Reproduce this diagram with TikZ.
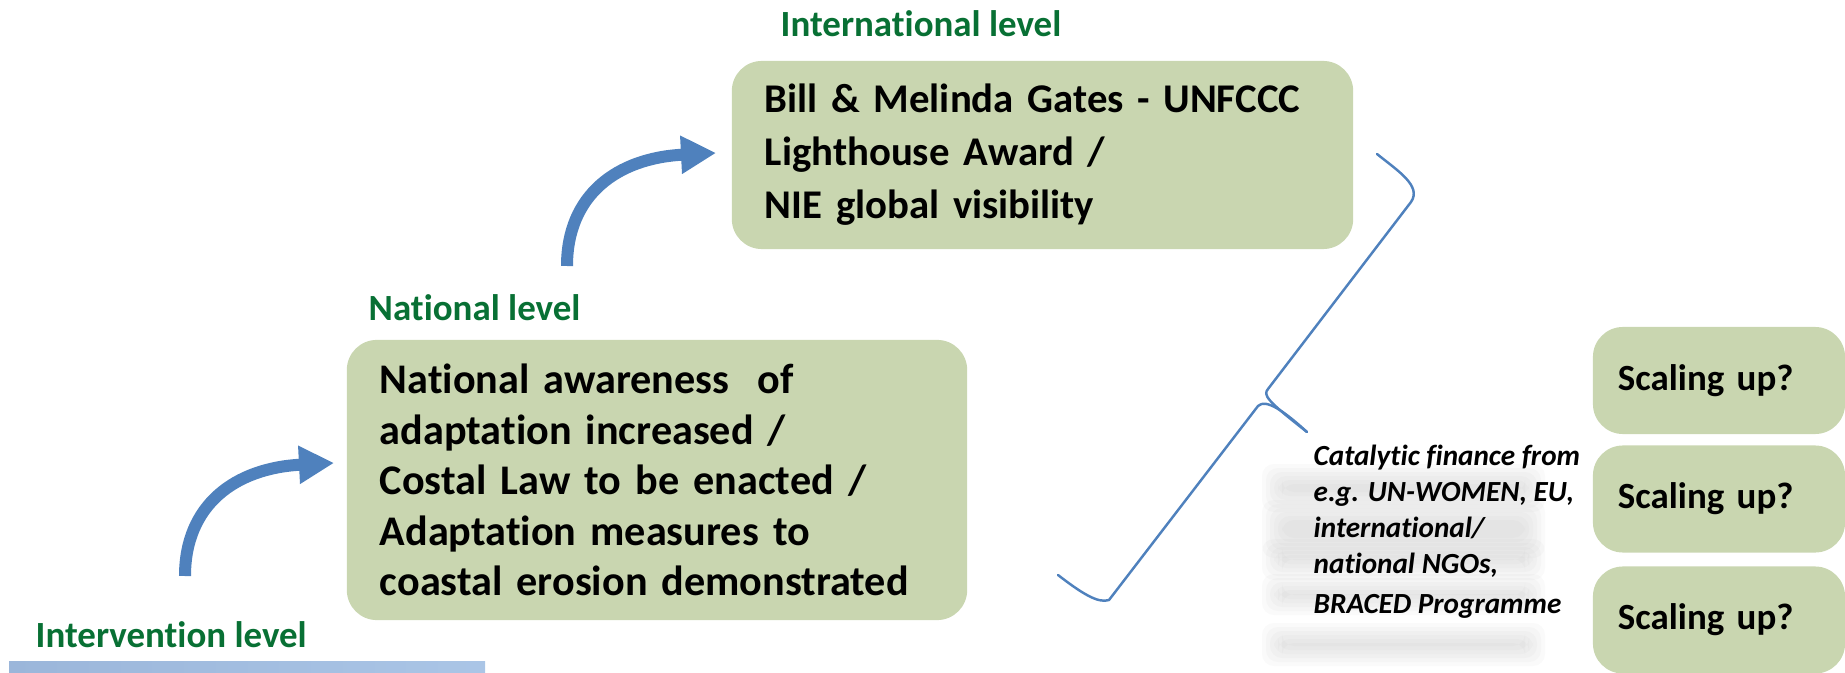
\documentclass[tikz,border=0pt]{standalone}
\usepackage{fontspec}
\setmainfont{Carlito}[Ligatures=NoCommon]
\usetikzlibrary{arrows.meta}
\definecolor{boxfill}{RGB}{201,214,176}
\definecolor{lvlgreen}{RGB}{8,112,52}
\definecolor{arrblue}{RGB}{79,129,189}
\definecolor{barL}{RGB}{155,182,218}
\definecolor{barR}{RGB}{170,197,230}
\definecolor{blurgray}{RGB}{185,185,185}
\begin{document}
\begin{tikzpicture}[x=0.01cm,y=-0.01cm,
  greenbox/.style={draw=none, fill=boxfill, rounded corners=0.3cm, inner xsep=0.33cm, inner ysep=0pt, align=left},
  lvl/.style={text=lvlgreen, font=\bfseries\fontsize{10.5}{12}\selectfont, inner sep=0pt, anchor=west},
  scalebox/.style={greenbox, inner xsep=0.25cm, text width=2.02cm, minimum height=1.07cm, font=\bfseries\fontsize{10.5}{12}\selectfont},
  bigarrow/.style={arrblue, line width=0.12cm, -{Triangle[width=0.36cm,length=0.35cm]}},
  bracestyle/.style={arrblue, line width=0.7pt, line cap=round, line join=round},
  blurstrip/.style={fill=blurgray, opacity=0.08, rounded corners=0.12cm}
]
\path[use as bounding box] (0,0) rectangle (1845,673);
\clip (0,0) rectangle (1845,673);

% faint blurred shadow behind the catalytic text
\foreach \ya/\yb in {478/498, 514/544, 553/566, 588/601, 637/652}{
  \foreach \d in {0,4,8,12,16,20}{
    \fill[blurstrip] (1262+\d,\ya-14+\d) rectangle (1545-\d,\yb+14-\d);
  }
}

% level labels
\node[lvl] (intl) at (780,24) {International level};
\node[lvl] (natl) at (368,308) {National level};
\node[lvl] (intv) at (35,635) {Intervention level};

% main boxes
\node[greenbox, text width=5.55cm, minimum height=1.88cm,
      font=\bfseries\fontsize{11.6}{15.1}\selectfont] (top) at (1042.5,155)
  {Bill \& Melinda Gates - UNFCCC\\ Lighthouse Award /\\ NIE global visibility};
\node[greenbox, text width=5.54cm, minimum height=2.80cm,
      font=\bfseries\fontsize{12}{14.4}\selectfont] (mid) at (657,480)
  {National awareness~~of\\ adaptation increased /\\ Costal Law to be enacted /\\ Adaptation measures to\\ coastal erosion demonstrated};

% scaling boxes
\node[scalebox] (s1) at (1719,380.5) {Scaling up?};
\node[scalebox] (s2) at (1719,499) {Scaling up?};
\node[scalebox] (s3) at (1719,620) {Scaling up?};

% catalytic finance text
\node[inner sep=0pt, anchor=west, align=left,
      font=\bfseries\itshape\fontsize{8.3}{10.2}\selectfont] (cat) at (1313,532)
  {Catalytic finance from\\ e.g. UN-WOMEN, EU,\\ international/\\ national NGOs,\\[1.3pt] BRACED Programme};

% curved arrows
\coordinate (a1from) at (185,576);
\coordinate (a1to) at (334,463);
\coordinate (a2from) at (567,266);
\coordinate (a2to) at (716,153);
\draw[bigarrow] (a1from) .. controls (185,505) and (235,468) .. (a1to);
\draw[bigarrow] (a2from) .. controls (567,195) and (617,158) .. (a2to);

% bracket
\draw[bracestyle] (1377,154) .. controls (1398,171) and (1422,186) .. (1411,202)
  -- (1268,389) .. controls (1263,395) and (1266,400) .. (1307,432);
\draw[bracestyle] (1307,432) .. controls (1285,412) and (1266,398) .. (1258,406)
  -- (1109,600) .. controls (1098,604) and (1080,592) .. (1058,575);

% bottom bar
\shade[left color=barL, right color=barR] (9,661) rectangle (485,680);
\end{tikzpicture}
\end{document}
